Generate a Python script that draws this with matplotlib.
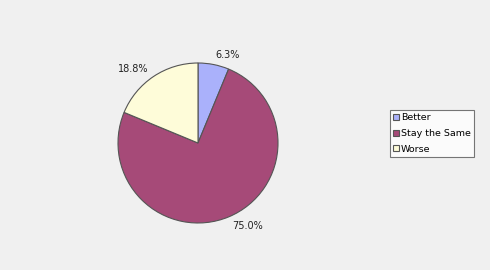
import matplotlib

matplotlib.use("Agg")

import matplotlib.pyplot as plt

labels = ["Better", "Stay the Same", "Worse"]
values = [6.25, 75.0, 18.75]
colors = ["#aab1fb", "#a64a78", "#fefcd9"]

fig = plt.figure(figsize=(4.9, 2.7), dpi=100)
fig.patch.set_facecolor("#f0f0f0")

axis = fig.add_axes([118 / 490, 47 / 270, 160 / 490, 160 / 270])
wedges, texts, autotexts = axis.pie(
    values,
    colors=colors,
    startangle=90,
    counterclock=False,
    autopct=lambda pct: f"{round(pct + 1e-6, 1):.1f}%",
    pctdistance=1.12,
    wedgeprops={"edgecolor": "#555555", "linewidth": 0.8},
    textprops={"fontsize": 7, "color": "#222222"},
)
# push labels outward like the original (left of pie -> right aligned)
for text in autotexts:
    x, _ = text.get_position()
    text.set_horizontalalignment("right" if x < 0 else "left")
    text.set_verticalalignment("center")
axis.set_xlim(-1, 1)
axis.set_ylim(-1, 1)
axis.set_aspect("equal")

legend = fig.legend(
    wedges,
    labels,
    loc="upper left",
    bbox_to_anchor=(390 / 490, 1 - 110 / 270),
    fontsize=6.8,
    frameon=True,
    fancybox=False,
    edgecolor="#555555",
    handlelength=0.6,
    handleheight=0.6,
    handletextpad=0.2,
    borderpad=0.35,
    labelspacing=0.7,
    borderaxespad=0,
)
legend.get_frame().set_linewidth(0.8)

fig.savefig("out.png", dpi=100, facecolor=fig.get_facecolor())
